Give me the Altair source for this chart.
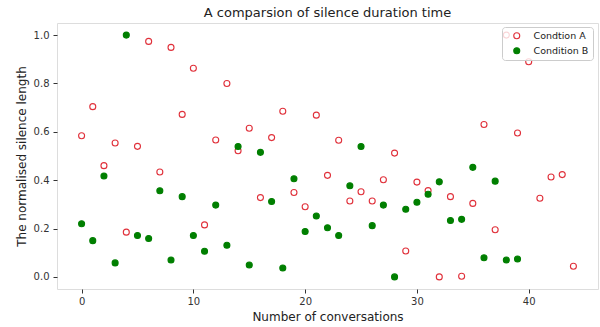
import altair as alt
import pandas as pd

cond_a = [0.584, 0.704, 0.46, 0.554, 0.185, 0.54, 0.974, 0.434, 0.949, 0.672,
          0.863, 0.215, 0.566, 0.80, 0.522, 0.615, 0.328, 0.576, 0.685, 0.349,
          0.29, 0.669, 0.42, 0.565, 0.314, 0.352, 0.314, 0.402, 0.512, 0.107,
          0.392, 0.357, 0.0, 0.332, 0.003, 0.304, 0.63, 0.195, 1.0, 0.595,
          0.89, 0.325, 0.413, 0.423, 0.044]
cond_b = [0.22, 0.15, 0.417, 0.058, 1.0, 0.171, 0.159, 0.356, 0.07, 0.332,
          0.171, 0.106, 0.297, 0.131, 0.539, 0.049, 0.515, 0.312, 0.037, 0.406,
          0.188, 0.252, 0.203, 0.171, 0.377, 0.539, 0.212, 0.297, 0.0, 0.28,
          0.309, 0.342, 0.393, 0.233, 0.238, 0.453, 0.079, 0.396, 0.07, 0.074]
names = ["Condtion A", "Condition B"]

rows = [{"x": i, "y": v, "series": names[0]} for i, v in enumerate(cond_a)]
rows += [{"x": i, "y": v, "series": names[1]} for i, v in enumerate(cond_b)]
df = pd.DataFrame(rows)
df["order"] = range(len(df))

FONT = "DejaVu Sans"

legend_kw = dict(title=None, orient="none", legendX=445, legendY=4,
                 fillColor="rgba(255,255,255,0.8)", strokeColor="#cccccc",
                 cornerRadius=3, padding=4, labelFontSize=9.5, labelFont=FONT,
                 labelColor="#222", symbolSize=36, symbolStrokeWidth=1.1,
                 labelOffset=12, rowPadding=4, symbolOffset=6, zindex=1)

chart = alt.Chart(df).mark_point(shape="circle", size=36, strokeWidth=1.1, opacity=1).encode(
    x=alt.X("x:Q", scale=alt.Scale(domain=[-2.2, 46.2], nice=False, zero=False),
            axis=alt.Axis(title="Number of conversations", values=[0, 10, 20, 30, 40],
                          format="d", grid=False, domain=False, tickSize=4,
                          tickColor="#333", labelColor="#333", labelFontSize=10,
                          labelPadding=3, titleFontSize=12, titleColor="#222",
                          titleFontWeight="normal", titlePadding=5, labelFont=FONT,
                          titleFont=FONT)),
    y=alt.Y("y:Q", scale=alt.Scale(domain=[-0.05, 1.05], nice=False, zero=False),
            axis=alt.Axis(title="The normalised silence length",
                          values=[0, 0.2, 0.4, 0.6, 0.8, 1.0], format=".1f", grid=False,
                          domain=False, tickSize=4, tickColor="#333", labelColor="#333",
                          labelFontSize=10, labelPadding=4, titleFontSize=12,
                          titleColor="#222", titleFontWeight="normal", titlePadding=5,
                          labelFont=FONT, titleFont=FONT)),
    stroke=alt.Stroke("series:N", scale=alt.Scale(domain=names, range=["#e0303a", "#007f00"]),
                      legend=alt.Legend(**legend_kw)),
    fill=alt.Fill("series:N", scale=alt.Scale(domain=names, range=["transparent", "#007f00"]),
                  legend=alt.Legend(**legend_kw)),
    order=alt.Order("order:Q"),
).properties(
    width=541, height=266,
    title=alt.Title("A comparsion of silence duration time", fontSize=13, font=FONT,
                    fontWeight="normal", color="#222", offset=3, anchor="middle"),
    padding={"left": 57, "top": 23, "right": 2, "bottom": 38},
    autosize=alt.AutoSizeParams(type="none"),
).configure_view(stroke="#444", strokeWidth=1).configure(background="white")

chart.save("out.html", embed_options={"renderer": "svg", "actions": False})
